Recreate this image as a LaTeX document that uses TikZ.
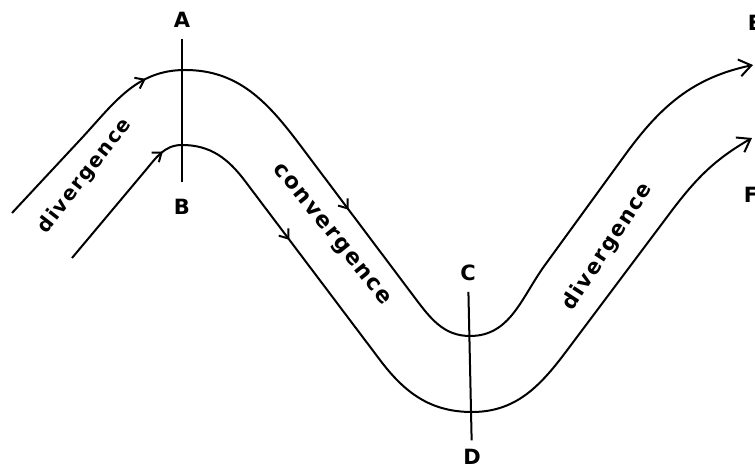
\documentclass[tikz,border=0pt]{standalone}
\usepackage{fontspec}
\setmainfont{DejaVu Sans}
\newfontfamily\flowfont{DejaVu Sans}[UprightFont=* Bold, LetterSpace=8]
\newfontfamily\letterfont{DejaVu Sans}[UprightFont=* Bold]
\usetikzlibrary{arrows.meta,decorations.markings}

\begin{document}
\begin{tikzpicture}[x=1pt, y=1pt, line width=2pt,
	endbarb/.style={-{Straight Barb[length=12pt,width=17pt]}},
	letter/.style={font=\letterfont\fontsize{21}{21}\selectfont, inner sep=0pt},
	flowlabel/.style={font=\flowfont\fontsize{#1}{#1}\selectfont, inner sep=0pt},
	flowlabel/.default=20,
	midbarbs/.style 2 args={postaction={decorate}, decoration={markings,
		mark=at position #1 with {\arrow{Straight Barb[length=8pt,width=12pt]}},
		mark=at position #2 with {\arrow{Straight Barb[length=8pt,width=12pt]}}}}]
	
	\useasboundingbox (0,0) rectangle (755,470);
	
	% --- upper streamline ---
	\coordinate (u0) at (12,257);
	\coordinate (ul) at (80,330);
	\coordinate (utop) at (185,400);
	\coordinate (ua) at (300,325);
	\coordinate (ub) at (415,172);
	\coordinate (ubot) at (470,134);
	\coordinate (uc) at (545,205);
	\coordinate (ud) at (625,315);
	\coordinate (uend) at (753,405);
	
	\draw[endbarb, midbarbs={190pt}{455pt}] (u0) -- (ul) to[out=47,in=180] (utop)
		to[out=0,in=127] (ua) -- (ub) to[out=-53,in=180] (ubot)
		to[out=0,in=234] (uc) -- (ud) to[out=54,in=192] (uend);
	
	% --- lower streamline ---
	\coordinate (l0) at (72,212);
	\coordinate (la) at (145,299);
	\coordinate (ltop) at (182,325);
	\coordinate (lb) at (245,289);
	\coordinate (lc) at (380,110);
	\coordinate (lbot) at (472,58);
	\coordinate (ld) at (565,117);
	\coordinate (le) at (670,257);
	\coordinate (lend) at (752,332);
	
	\draw[endbarb, midbarbs={140pt}{310pt}] (l0) -- (la) to[out=50,in=180] (ltop)
		to[out=0,in=127] (lb) -- (lc) to[out=-53,in=180] (lbot)
		to[out=0,in=233] (ld) -- (le) to[out=53,in=210] (lend);
	
	% --- cross sections ---
	\node[letter] (A) at (182,450) {A};
	\node[letter] (B) at (182,263) {B};
	\node[letter] (C) at (468,197) {C};
	\node[letter] (D) at (472,13) {D};
	\node[letter] (E) at (755,447) {E};
	\node[letter] (F) at (751,275) {F};
	
	\draw[shorten <=10pt, shorten >=16pt] (A) -- (B);
	\draw[shorten <=10pt, shorten >=8pt] (C) -- (D);
	
	% --- labels along the flow ---
	\node[flowlabel, rotate=52] (div1) at (85,294) {divergence};
	\node[flowlabel=22, rotate=-51] (conv) at (331,235) {convergence};
	\node[flowlabel=21, rotate=57] (div2) at (608,223) {divergence};
	
\end{tikzpicture}
\end{document}
